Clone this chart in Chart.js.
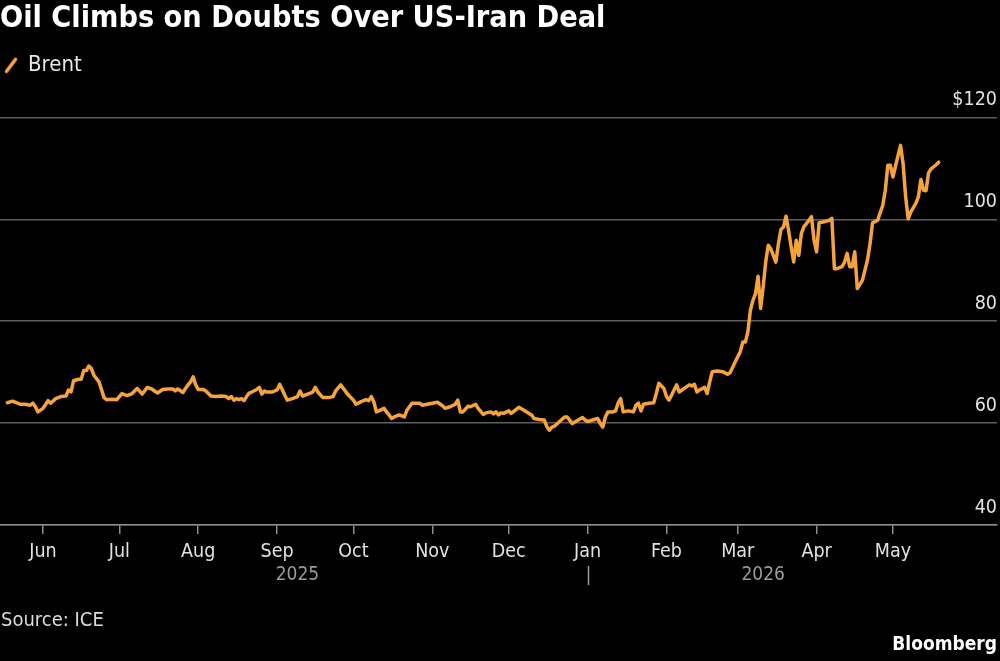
<!DOCTYPE html>
<html>
<head>
<meta charset="utf-8">
<script src="https://cdn.jsdelivr.net/npm/chart.js@4.4.1/dist/chart.umd.min.js"></script>
<style>
  html, body { margin: 0; background: #000; }
</style>
</head>
<body>
<canvas id="chart" width="1000" height="661"></canvas>
<script>
// Brent front-month. x = days since 2025-06-01.
const days = [
  -14, -12, -10, -9, -7, -5, -4, -3, -2, 0, 2, 3, 5, 7, 9, 10, 11, 12, 14, 15,
  16, 17, 18, 19, 20, 22, 24, 25, 27, 29, 31, 33, 35, 37, 39, 41, 43, 45, 47, 49,
  51, 52, 53, 55, 56, 57, 58, 59, 60, 61, 63, 64, 65, 66, 68, 70, 72, 73, 74, 75,
  76, 77, 78, 79, 80, 81, 82, 84, 85, 86, 87, 88, 90, 92, 93, 94, 95, 96, 98, 100,
  101, 102, 104, 106, 107, 108, 110, 112, 114, 115, 117, 118, 120, 122, 123, 125, 127, 128, 129, 130,
  131, 132, 134, 135, 136, 137, 138, 140, 142, 143, 145, 147, 148, 149, 151, 153, 155, 157, 158, 160,
  162, 163, 164, 165, 167, 168, 170, 171, 173, 174, 176, 177, 178, 179, 180, 181, 183, 184, 186, 187,
  189, 191, 192, 193, 195, 197, 198, 199, 200, 201, 203, 205, 206, 208, 210, 212, 213, 214, 216, 218,
  219, 220, 221, 222, 224, 225, 226, 227, 228, 230, 232, 233, 234, 235, 236, 238, 240, 241, 242, 244,
  245, 246, 248, 249, 250, 252, 254, 255, 256, 257, 258, 260, 261, 262, 263, 265, 267, 269, 270, 272,
  274, 275, 276, 277, 278, 279, 280, 281, 282, 283, 284, 285, 286, 288, 289, 290, 291, 292, 293, 294,
  295, 296, 297, 298, 299, 301, 302, 303, 304, 305, 307, 309, 310, 311, 312, 314, 315, 316, 317, 318,
  319, 320, 322, 323, 324, 325, 326, 328, 329, 330, 331, 332, 333, 334, 335, 336, 337, 338, 339, 340,
  341, 343, 344, 345, 346, 347, 348, 349, 351, 352
];
const brent = [
  64.0, 64.3, 63.9, 63.7, 63.7, 63.5, 63.9, 63.2, 62.2, 62.9, 64.4, 63.9, 64.8, 65.2, 65.3, 66.5, 66.1, 68.3, 68.6, 68.6,
  70.3, 70.3, 71.2, 70.7, 69.4, 68.1, 65.0, 64.6, 64.7, 64.6, 65.8, 65.4, 65.8, 66.8, 65.7, 67.0, 66.6, 65.9, 66.6, 66.7,
  66.7, 66.3, 66.7, 66.0, 66.8, 67.5, 68.1, 69.1, 67.5, 66.6, 66.6, 66.3, 65.8, 65.3, 65.2, 65.3, 65.2, 64.8, 65.2, 64.5,
  64.8, 64.6, 64.8, 64.4, 65.2, 65.9, 66.1, 66.6, 67.0, 65.7, 66.3, 66.1, 66.1, 66.5, 67.6, 66.6, 65.5, 64.5, 64.8, 65.2,
  66.3, 65.3, 65.7, 66.1, 67.0, 66.1, 65.0, 65.0, 65.2, 66.3, 67.5, 66.8, 65.5, 64.5, 63.7, 64.2, 64.6, 64.4, 65.2, 64.2,
  62.2, 62.4, 62.9, 62.2, 61.6, 60.9, 61.2, 61.6, 61.2, 62.5, 63.9, 63.9, 63.9, 63.5, 63.7, 63.9, 64.1, 63.4, 62.9, 63.2,
  63.7, 64.5, 62.2, 62.2, 63.3, 63.2, 63.7, 62.9, 61.7, 62.0, 62.2, 61.8, 62.2, 61.6, 62.0, 61.9, 62.4, 61.9, 62.7, 63.1,
  62.5, 61.9, 61.6, 60.9, 60.7, 60.6, 59.3, 58.6, 59.2, 59.4, 60.3, 61.2, 61.2, 59.9, 60.5, 61.1, 60.6, 60.3, 60.6, 60.9,
  59.9, 59.2, 61.2, 62.2, 62.2, 62.4, 63.9, 64.8, 62.2, 62.4, 62.2, 63.5, 63.9, 62.4, 63.7, 63.9, 64.0, 65.8, 67.8, 66.8,
  65.2, 64.5, 66.5, 67.5, 66.1, 66.8, 67.5, 67.3, 67.6, 66.1, 66.5, 67.0, 65.8, 68.1, 70.1, 70.2, 70.1, 69.6, 69.9, 72.0,
  74.0, 75.9, 75.9, 77.9, 82.2, 84.1, 85.4, 88.8, 82.5, 86.7, 91.6, 94.9, 94.2, 91.6, 95.2, 98.0, 98.5, 100.6, 97.8, 94.6,
  91.6, 95.9, 92.9, 97.2, 98.5, 99.8, 100.5, 95.9, 93.6, 99.3, 99.5, 99.8, 100.2, 90.3, 90.3, 90.7, 91.6, 93.3, 90.7, 90.7,
  93.6, 86.4, 88.0, 90.0, 92.0, 95.2, 99.3, 99.8, 101.3, 102.7, 105.7, 110.6, 110.6, 108.3, 110.4, 112.5, 114.5, 110.9, 104.4, 100.1,
  101.4, 103.1, 104.4, 107.8, 105.7, 105.6, 109.1, 109.9, 110.7, 111.2
];

// month starts as days since 2025-06-01
const monthDays = [0, 30, 61, 92, 122, 153, 183, 214, 245, 273, 304, 334];
const monthLabels = ["Jun", "Jul", "Aug", "Sep", "Oct", "Nov", "Dec", "Jan", "Feb", "Mar", "Apr", "May"];
const yearLabels = ["2025", "2026"];
const newYearDay = 214;
const yTicks = [40, 60, 80, 100, 120];

const FONT = "'DejaVu Sans Condensed', 'DejaVu Sans', sans-serif";
const ORANGE = "#f7a33c";

// little orange slash used as the legend marker
const slash = document.createElement("canvas");
slash.width = 14;
slash.height = 17;
{
  const g = slash.getContext("2d");
  g.strokeStyle = ORANGE;
  g.lineWidth = 3.5;
  g.lineCap = "round";
  g.beginPath();
  g.moveTo(2.5, 14.5);
  g.lineTo(11.5, 2.5);
  g.stroke();
}

// year row, Jan separator and footer texts
const extras = {
  id: "extras",
  afterDraw(chart) {
    const { ctx } = chart;
    const x = chart.scales.x;
    const first = x.getPixelForValue(days[0]);
    const last = x.getPixelForValue(days[days.length - 1]);
    const jan = x.getPixelForValue(newYearDay);
    ctx.save();
    ctx.font = "19px " + FONT;
    ctx.fillStyle = "#9b9b9b";
    ctx.textAlign = "center";
    ctx.textBaseline = "middle";
    ctx.fillText(yearLabels[0], (first + jan) / 2, 575);
    ctx.fillText(yearLabels[1], (jan + last) / 2, 575);
    ctx.strokeStyle = "#9b9b9b";
    ctx.lineWidth = 1.5;
    ctx.beginPath();
    ctx.moveTo(Math.round(jan) + 0.5, 566);
    ctx.lineTo(Math.round(jan) + 0.5, 585);
    ctx.stroke();

    ctx.textAlign = "left";
    ctx.fillStyle = "#dcdcdc";
    ctx.font = "20px " + FONT;
    ctx.fillText("Source: ICE", 1, 621);
    ctx.textAlign = "right";
    ctx.fillStyle = "#ffffff";
    ctx.font = "bold 19px " + FONT;
    ctx.fillText("Bloomberg", 997, 645);
    ctx.restore();
  },
};

Chart.defaults.font.family = FONT;

new Chart(document.getElementById("chart"), {
  type: "line",
  data: {
    datasets: [
      {
        label: "Brent",
        data: days.map((d, i) => ({ x: d, y: brent[i] })),
        borderColor: ORANGE,
        backgroundColor: ORANGE,
        borderWidth: 3.5,
        borderJoinStyle: "round",
        borderCapStyle: "round",
        pointRadius: 0,
        tension: 0,
      },
    ],
  },
  options: {
    responsive: false,
    animation: false,
    devicePixelRatio: 1,
    layout: { padding: { left: 0, right: 3, top: 0, bottom: 0 } },
    plugins: {
      title: {
        display: true,
        text: "Oil Climbs on Doubts Over US-Iran Deal",
        align: "start",
        color: "#ffffff",
        font: { size: 30.3, weight: "bold", lineHeight: 1.2 },
        padding: { top: 1, bottom: 12 },
      },
      legend: {
        display: true,
        position: "top",
        align: "start",
        labels: {
          usePointStyle: true,
          pointStyle: slash,
          boxWidth: 12,
          padding: 5,
          color: "#e6e6e6",
          font: { size: 22 },
        },
      },
      // empty box only used as a gap between legend and plot
      subtitle: {
        display: true,
        text: "",
        weight: 500,
        font: { size: 10, lineHeight: 1 },
        padding: { top: 0, bottom: 21 },
      },
      tooltip: { enabled: false },
    },
    scales: {
      x: {
        type: "linear",
        min: -16.9,
        max: 374.9,
        afterBuildTicks: (s) => {
          s.ticks = monthDays.map((v) => ({ value: v }));
        },
        afterFit: (s) => {
          s.height = 136;
        },
        ticks: {
          autoSkip: false,
          maxRotation: 0,
          padding: 6,
          color: "#e2e2e2",
          font: { size: 19.5 },
          callback: (v) => monthLabels[monthDays.indexOf(v)],
        },
        grid: { drawOnChartArea: false, drawTicks: true, tickLength: 9, color: "#8c8c8c", lineWidth: 1.5 },
        border: { display: true, color: "#8c8c8c", width: 1.5 },
      },
      y: {
        position: "right",
        min: 40,
        max: 120,
        afterBuildTicks: (s) => {
          s.ticks = yTicks.map((v) => ({ value: v }));
        },
        ticks: {
          mirror: true,
          padding: 0,
          labelOffset: -17,
          color: "#e2e2e2",
          font: { size: 19.5 },
          callback: (v) => (v === 120 ? "$" + v : String(v)),
        },
        grid: { color: "#5e5e5e", lineWidth: 1.5, drawTicks: false },
        border: { display: false },
      },
    },
  },
  plugins: [extras],
});
</script>
</body>
</html>
